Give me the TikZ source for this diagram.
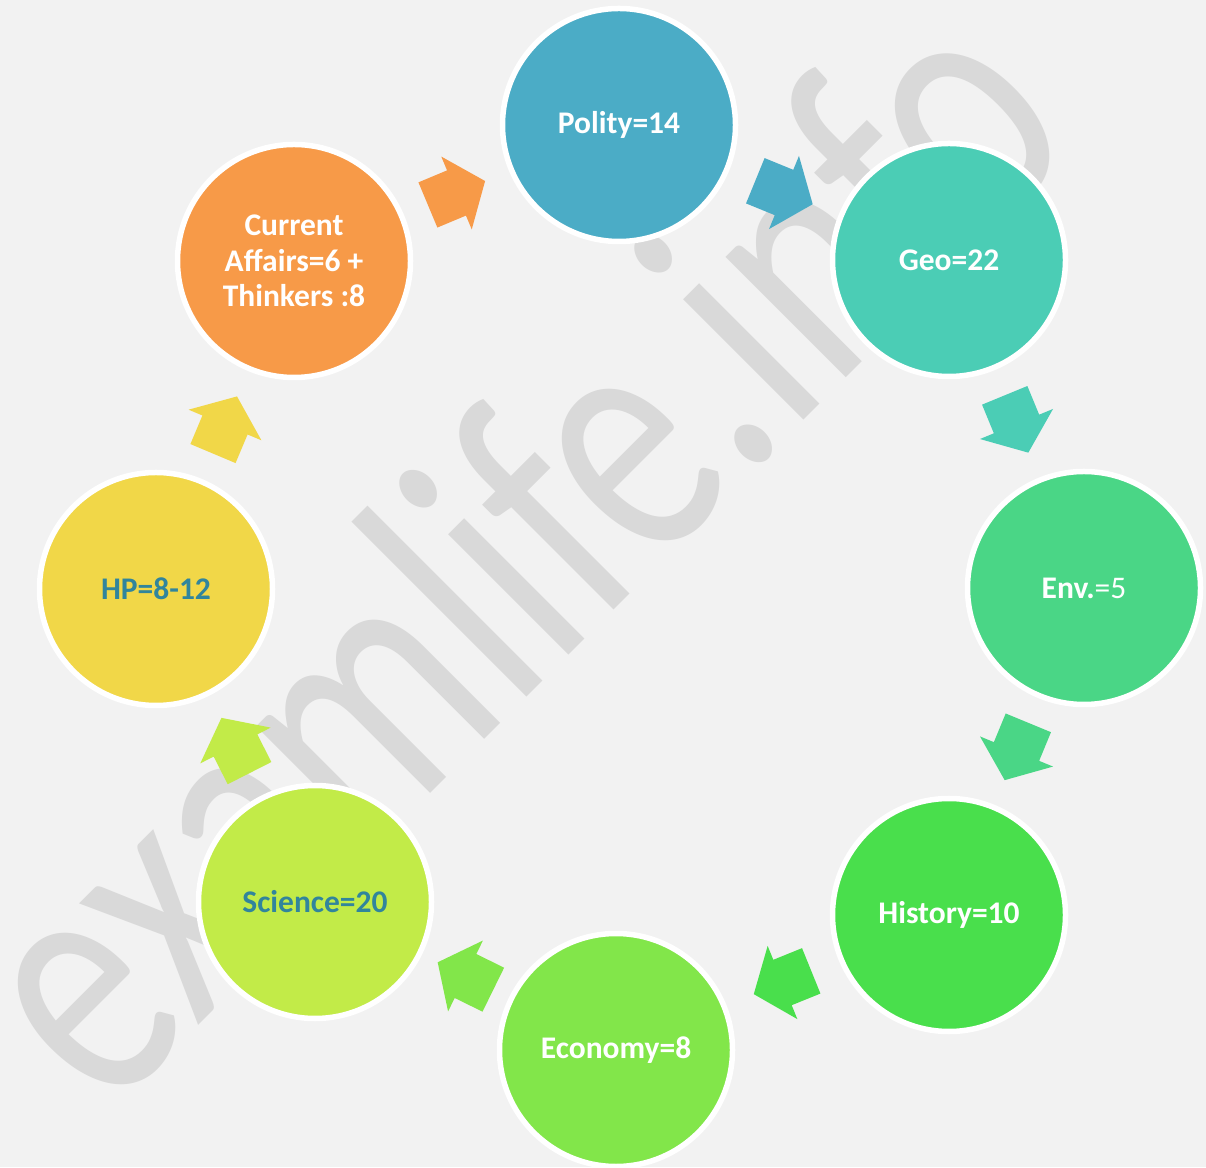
\documentclass[tikz,border=0pt]{standalone}
\usepackage{fontspec}
\setmainfont{Carlito}
\usetikzlibrary{calc}

\definecolor{backc}{HTML}{F2F2F2}
\definecolor{markc}{HTML}{D9D9D9}
\definecolor{polityc}{HTML}{4BACC6}
\definecolor{geoc}{HTML}{4BCDB5}
\definecolor{envc}{HTML}{4AD686}
\definecolor{historyc}{HTML}{49DF4C}
\definecolor{economyc}{HTML}{82E64A}
\definecolor{sciencec}{HTML}{C2EB48}
\definecolor{hpc}{HTML}{F1D748}
\definecolor{affairsc}{HTML}{F79A48}
\definecolor{darktext}{HTML}{31859C}

\tikzset{
  topic/.style={circle, draw=white, line width=5.5pt, minimum size=233pt,
    inner sep=0pt, align=center, text=white,
    font=\fontsize{31.5}{35.5}\selectfont\bfseries},
  flow/.pic={\fill (-31,-24.5) -- (0,-24.5) -- (0,-39.5) -- (31,0)
    -- (0,39.5) -- (0,24.5) -- (-31,24.5) -- cycle;}
}

\begin{document}
\begin{tikzpicture}[x=1pt, y=1pt]

\def\width{1206}
\def\height{1167}
\def\ox{620}
\def\oy{579}

\path [use as bounding box, fill=backc] (0,0) rectangle (\width,\height);

% WATERMARK
\begin{scope}[shift={(\ox,\oy)}, shift={(-25.5,-41.5)}, rotate=45, yscale=1.35]
  \node (mark) [anchor=base, inner sep=0pt, transform shape, text=markc,
    font=\fontsize{264}{264}\selectfont] at (0,0) {examlife.info};
\end{scope}

% TOPICS
\path (\ox,\oy) ++(-1,463) node (polity) [topic, fill=polityc] {Polity=14};
\path (\ox,\oy) ++(329,328) node (geo) [topic, fill=geoc] {Geo=22};
\path (\ox,\oy) ++(464,0) node (env) [topic, fill=envc] {Env.{\mdseries=5}};
\path (\ox,\oy) ++(329,-327) node (history) [topic, fill=historyc] {History=10};
\path (\ox,\oy) ++(-4,-462) node (economy) [topic, fill=economyc] {Economy=8};
\path (\ox,\oy) ++(-305,-314) node (science) [topic, fill=sciencec, text=darktext] {Science=20};
\path (\ox,\oy) ++(-464,-1) node (hp) [topic, fill=hpc, text=darktext] {HP=8-12};
\path (\ox,\oy) ++(-326,327) node (affairs) [topic, fill=affairsc] {Current\\Affairs=6 +\\Thinkers :8};

% ARROWS
\path let \p1=($(polity)-(affairs)$) in pic [rotate={atan2(\y1,\x1)}, fill=affairsc] at ($(affairs)!0.5!(polity)$) {flow};
\path let \p1=($(geo)-(polity)$) in pic [rotate={atan2(\y1,\x1)}, fill=polityc] at ($(polity)!0.5!(geo)$) {flow};
\path let \p1=($(env)-(geo)$) in pic [rotate={atan2(\y1,\x1)}, fill=geoc] at ($(geo)!0.5!(env)$) {flow};
\path let \p1=($(history)-(env)$) in pic [rotate={atan2(\y1,\x1)}, fill=envc] at ($(env)!0.5!(history)$) {flow};
\path let \p1=($(economy)-(history)$) in pic [rotate={atan2(\y1,\x1)}, fill=historyc] at ($(history)!0.5!(economy)$) {flow};
\path let \p1=($(science)-(economy)$) in pic [rotate={atan2(\y1,\x1)}, fill=economyc] at ($(economy)!0.5!(science)$) {flow};
\path let \p1=($(hp)-(science)$) in pic [rotate={atan2(\y1,\x1)}, fill=sciencec] at ($(science)!0.5!(hp)$) {flow};
\path let \p1=($(affairs)-(hp)$) in pic [rotate={atan2(\y1,\x1)}, fill=hpc] at ($(hp)!0.5!(affairs)$) {flow};

\end{tikzpicture}
\end{document}
